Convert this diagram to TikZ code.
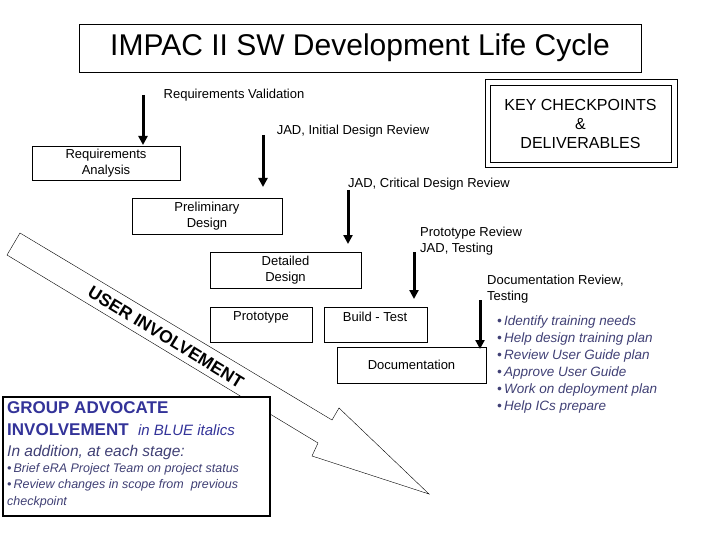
\documentclass[tikz,border=0pt]{standalone}
\usepackage{fontspec}
\setmainfont{Liberation Sans}
\usetikzlibrary{arrows.meta}
\definecolor{gblue}{HTML}{333399}
\definecolor{iblue}{HTML}{404075}
\begin{document}
\begin{tikzpicture}[x=1pt,y=-1pt,
  stagebox/.style={draw,thin,inner sep=0pt},
  lbl/.style={font=\fontsize{13}{16}\selectfont,align=center,inner sep=0pt},
  ckarrow/.style={line width=3pt,-{Triangle[length=9pt,width=9pt]}}]
\useasboundingbox (0,0) rectangle (720,540);
% title
\node[draw,minimum width=562,minimum height=48,font=\fontsize{30}{34}\selectfont] (title) at (360,48) {IMPAC II SW Development Life Cycle};
% key box
\node[draw,minimum width=192,minimum height=88] (keyo) at (581,123) {};
\node[draw,minimum width=181,minimum height=77,align=center,font=\fontsize{16}{19}\selectfont] (key) at (580.5,123.5) {KEY CHECKPOINTS\\\&\\DELIVERABLES};
% stages
\node[stagebox,minimum width=148,minimum height=34,lbl] (ra) at (106,163) {Requirements\\Analysis};
\node[stagebox,minimum width=150,minimum height=36,lbl] (pd) at (207,216) {Preliminary\\Design};
\node[stagebox,minimum width=151,minimum height=36,lbl] (dd) at (285.5,270) {Detailed\\Design};
\node[stagebox,minimum width=102,minimum height=35] (pr) at (261,324.5) {};
\node[lbl] at (261,317) {Prototype};
\node[stagebox,minimum width=103,minimum height=35] (bt) at (375.5,324.5) {};
\node[lbl] at (375,317) {Build - Test};
\node[stagebox,minimum width=149,minimum height=36,lbl] (doc) at (411.5,365) {Documentation};
% labels and arrows
\node[lbl] (rv) at (234,95) {Requirements Validation};
\coordinate (a1s) at (143,95); \coordinate (a1e) at (143,145);
\draw[ckarrow] (a1s) -- (a1e);
\node[lbl] (jid) at (353,131) {JAD, Initial Design Review};
\coordinate (a2s) at (263,135); \coordinate (a2e) at (263,187);
\draw[ckarrow] (a2s) -- (a2e);
\node[lbl] (jcd) at (429,184) {JAD, Critical Design Review};
\coordinate (a3s) at (348,190); \coordinate (a3e) at (348,244);
\draw[ckarrow] (a3s) -- (a3e);
\node[lbl,align=left,anchor=west] (prv) at (420,241) {Prototype Review\\JAD, Testing};
\coordinate (a4s) at (414,252); \coordinate (a4e) at (414,299);
\draw[ckarrow] (a4s) -- (a4e);
\node[lbl,align=left,anchor=west] (drv) at (487,289) {Documentation Review,\\Testing};
\coordinate (a5s) at (480,300); \coordinate (a5e) at (480,349);
\draw[ckarrow] (a5s) -- (a5e);
\node[anchor=north west,align=left,inner sep=0pt,text=iblue,font=\fontsize{13.5}{16.9}\selectfont\itshape] (bul) at (497,316)
{\textbullet\,Identify training needs\\\textbullet\,Help design training plan\\\textbullet\,Review User Guide plan\\\textbullet\,Approve User Guide\\\textbullet\,Work on deployment plan\\\textbullet\,Help ICs prepare};
% big arrow
\draw[thin,fill=white] (20,233) -- (332,420) -- (339,408) -- (429,494) -- (312,456) -- (318,443) -- (7,255) -- cycle;
\node[rotate=-31.5,font=\fontsize{17.5}{20}\selectfont\bfseries] (ui) at (166,337) {USER INVOLVEMENT};
% group box
\draw[line width=2.5pt,fill=white] (3,397) rectangle (270,516);
\node[anchor=north west,align=left,inner sep=0pt,font=\fontsize{17}{22}\selectfont\bfseries,text=gblue] (ga) at (7,401)
{GROUP ADVOCATE\\INVOLVEMENT\ \ {\mdseries\itshape\fontsize{15}{17}\selectfont in BLUE italics}};
\node[anchor=north west,align=left,inner sep=0pt,text=iblue,font=\fontsize{15.5}{17}\selectfont\itshape] (ia) at (7,445) {In addition, at each stage:};
\node[anchor=north west,align=left,inner sep=0pt,text=iblue,font=\fontsize{12.5}{16.5}\selectfont\itshape] (gb) at (7,463)
{\textbullet\,Brief eRA Project Team on project status\\\textbullet\,Review changes in scope from\ \ previous\\checkpoint};
\end{tikzpicture}
\end{document}
